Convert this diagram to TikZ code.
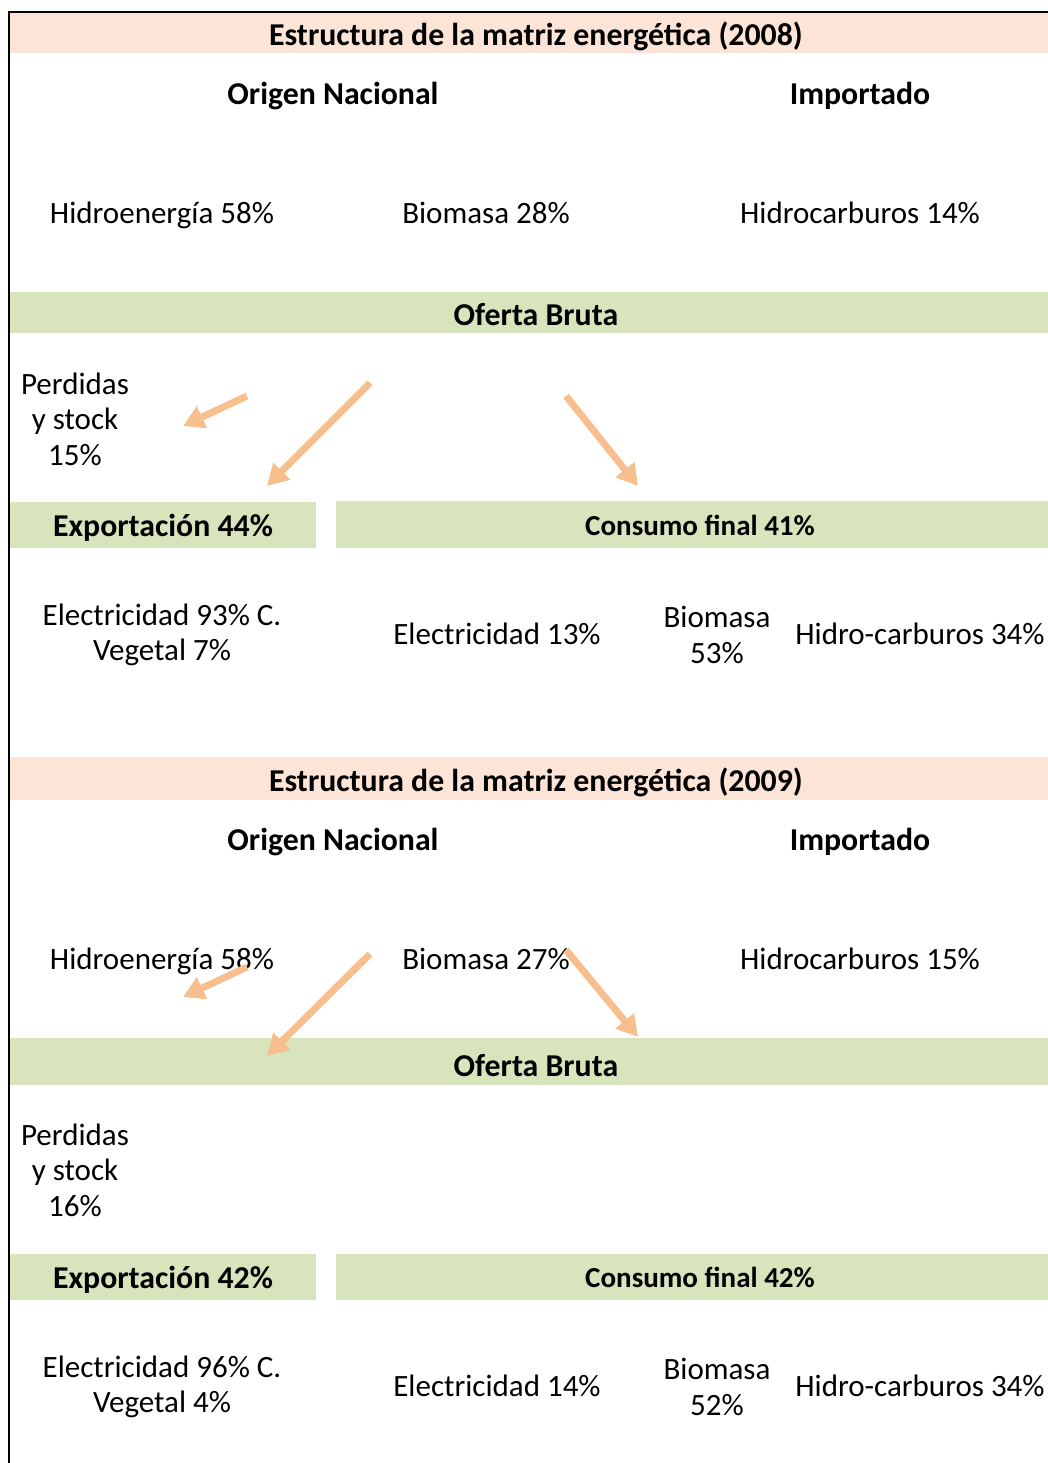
\documentclass[tikz,border=0pt]{standalone}
\usepackage{fontspec}
\setmainfont{Carlito}
\usetikzlibrary{arrows.meta}
\definecolor{peach}{HTML}{FCE4D6}
\definecolor{leaf}{HTML}{D8E4BC}
\definecolor{arrowc}{RGB}{248,191,142}
\tikzset{
  mtxt/.style={inner sep=0pt, align=center, font=\fontsize{31}{35.5}\selectfont},
  txt/.style={inner sep=0pt, text height=20.5pt, text depth=0pt, font=\fontsize{31}{35.5}\selectfont},
  btxt/.style={inner sep=0pt, text height=20.5pt, text depth=0pt, font=\fontsize{31.8}{36}\selectfont\bfseries},
  ctxt/.style={inner sep=0pt, text height=19pt, text depth=0pt, font=\fontsize{29}{34}\selectfont\bfseries},
  flow/.style={draw=arrowc, line width=7pt, -{Triangle[length=21pt,width=23pt]}},
}
\begin{document}
\begin{tikzpicture}[x=1pt,y=-1pt]
\useasboundingbox (0,0) rectangle (1048,1463);
% bands
\fill[peach] (10,13) rectangle (1048,53);
\fill[leaf] (10,292) rectangle (1048,333);
\fill[leaf] (10,502) rectangle (316,548);
\fill[leaf] (336,501) rectangle (1048,548);
\fill[peach] (10,757) rectangle (1048,800);
\fill[leaf] (10,1038) rectangle (1048,1085);
\fill[leaf] (10,1254) rectangle (316,1300);
\fill[leaf] (336,1254) rectangle (1048,1300);
% border
\draw[line width=2pt] (1048,12) -- (9,12) -- (9,1463);

% ---------- 2008 ----------
\node[btxt] (t1) at (536,35) {Estructura de la matriz energética (2008)};
\node[btxt] (on1) at (333,94) {Origen Nacional};
\node[btxt] (im1) at (860,94) {Importado};
\node[txt] (hi1) at (162,213) {Hidroenergía 58\%};
\node[txt] (bi1) at (486,213) {Biomasa 28\%};
\node[txt] (hc1) at (860,213) {Hidrocarburos 14\%};
\node[btxt] (ob1) at (536,315) {Oferta Bruta};
\node[mtxt] (pe1) at (75,419) {Perdidas\\y stock\\15\%};
\node[btxt] (ex1) at (163,526) {Exportación 44\%};
\node[ctxt] (cf1) at (700,526) {Consumo final 41\%};
\node[mtxt] (ee1) at (162,635) {Electricidad 93\% C.\\Vegetal 7\%};
\node[txt] (el1) at (497,634) {Electricidad 13\%};
\node[mtxt] (bm1) at (717,635) {Biomasa\\53\%};
\node[txt] (hd1) at (920,634) {Hidro-carburos 34\%};
\coordinate (a1s) at (247,396); \coordinate (a1e) at (183,426);
\coordinate (a2s) at (370,383); \coordinate (a2e) at (267,486);
\coordinate (a3s) at (566,396); \coordinate (a3e) at (638,486);
\draw[flow] (a1s) -- (a1e);
\draw[flow] (a2s) -- (a2e);
\draw[flow] (a3s) -- (a3e);

% ---------- 2009 ----------
\node[btxt] (t2) at (536,781) {Estructura de la matriz energética (2009)};
\node[btxt] (on2) at (333,840) {Origen Nacional};
\node[btxt] (im2) at (860,840) {Importado};
\node[txt] (hi2) at (162,959) {Hidroenergía 58\%};
\node[txt] (bi2) at (486,959) {Biomasa 27\%};
\node[txt] (hc2) at (860,959) {Hidrocarburos 15\%};
\node[btxt] (ob2) at (536,1066) {Oferta Bruta};
\node[mtxt] (pe2) at (75,1170) {Perdidas\\y stock\\16\%};
\node[btxt] (ex2) at (163,1278) {Exportación 42\%};
\node[ctxt] (cf2) at (700,1278) {Consumo final 42\%};
\node[mtxt] (ee2) at (162,1387) {Electricidad 96\% C.\\Vegetal 4\%};
\node[txt] (el2) at (497,1386) {Electricidad 14\%};
\node[mtxt] (bm2) at (717,1387) {Biomasa\\52\%};
\node[txt] (hd2) at (920,1386) {Hidro-carburos 34\%};
\coordinate (b1s) at (247,967); \coordinate (b1e) at (183,997);
\coordinate (b2s) at (370,954); \coordinate (b2e) at (267,1056);
\coordinate (b3s) at (566,950); \coordinate (b3e) at (638,1037);
\draw[flow] (b1s) -- (b1e);
\draw[flow] (b2s) -- (b2e);
\draw[flow] (b3s) -- (b3e);
\end{tikzpicture}
\end{document}
